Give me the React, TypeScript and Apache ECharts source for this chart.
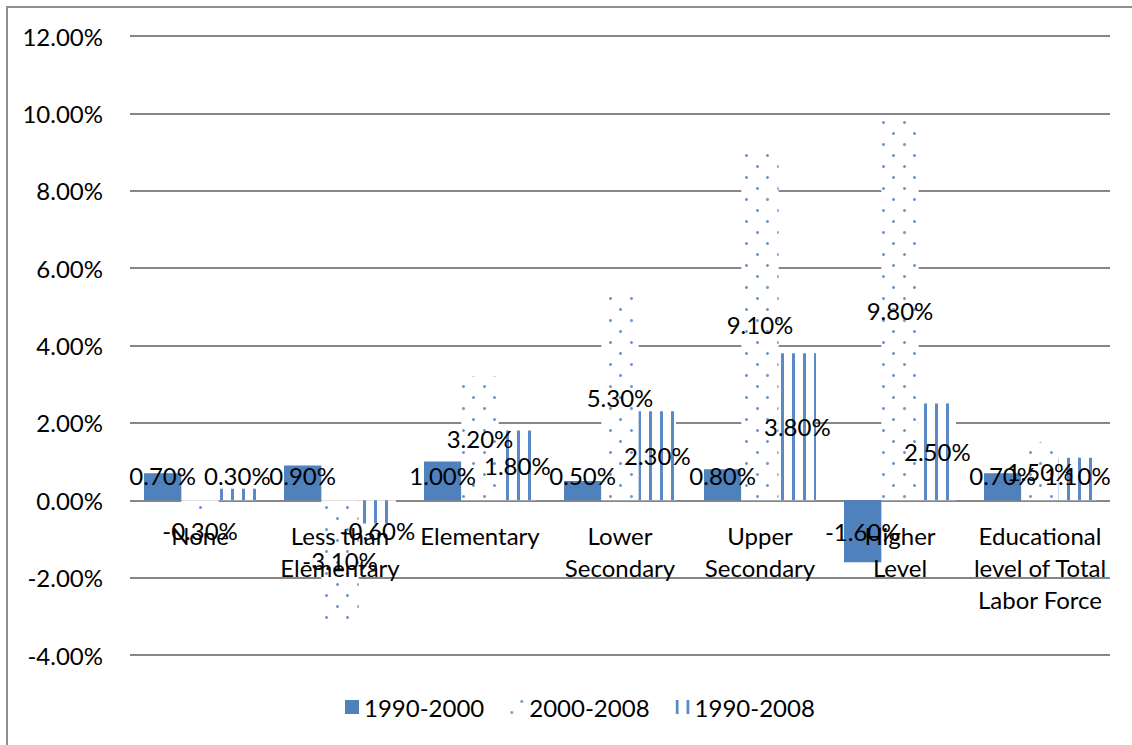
import React, { useEffect, useRef } from "react";
import * as echarts from "echarts";

// Growth of the labor force by educational level (percent per year)
const categories = [
  "None",
  "Less than\nElementary",
  "Elementary",
  "Lower\nSecondary",
  "Upper\nSecondary",
  "Higher\nLevel",
  "Educational\nlevel of Total\nLabor Force",
];
const seriesNames = ["1990-2000", "2000-2008", "1990-2008"];
const values1990to2000 = [0.7, 0.9, 1.0, 0.5, 0.8, -1.6, 0.7];
const values2000to2008 = [-0.3, -3.1, 3.2, 5.3, 9.1, 9.8, 1.5];
const values1990to2008 = [0.3, -0.6, 1.8, 2.3, 3.8, 2.5, 1.1];
const yMin = -4;
const yMax = 12;
const yStep = 2;

const FONT = "Lato";
const FS = 24;
const BLUE = "#4F81BD";

const pct = (v: number) => `${v.toFixed(2)}%`;

export default function App() {
  const ref = useRef<HTMLDivElement>(null);

  useEffect(() => {
    const chart = echarts.init(ref.current!, null, { renderer: "svg" });
    const allValues = [values1990to2000, values2000to2008, values1990to2008];

    const decals: any[] = [
      undefined,
      {
        symbol: "circle",
        symbolSize: 1,
        color: "#6B97CE",
        dashArrayX: [
          [2.4, 17.6],
          [0, 10, 2.4, 7.6],
        ],
        dashArrayY: [2.4, 7.6],
      },
      {
        symbol: "rect",
        symbolSize: 1,
        symbolKeepAspect: false,
        color: "#5A89C6",
        dashArrayX: [3, 8],
        dashArrayY: [10, 0],
      },
    ];

    const build = (offsets: number[][], catLabels: any[]) => ({
      animation: false,
      backgroundColor: "#ffffff",
      textStyle: { fontFamily: FONT },
      graphic: [
        {
          type: "rect",
          shape: { x: 7, y: 7, width: 1200, height: 800 },
          style: { fill: "none", stroke: "#8E8E8E", lineWidth: 2 },
          silent: true,
        },
        ...catLabels,
      ],
      grid: {
        left: 130,
        right: 22,
        top: 36,
        bottom: 90,
        containLabel: false,
        outerBoundsMode: "none",
      },
      legend: {
        left: 340,
        top: 690,
        icon: "rect",
        itemWidth: 14,
        itemHeight: 14,
        itemGap: 26,
        textStyle: { fontFamily: FONT, fontSize: FS, color: "#000" },
        data: seriesNames,
      },
      xAxis: {
        type: "category",
        data: categories,
        axisLine: { show: false },
        axisTick: { show: false },
        axisLabel: { show: false },
      },
      yAxis: {
        type: "value",
        min: yMin,
        max: yMax,
        interval: yStep,
        axisLine: { show: false },
        axisTick: { show: false },
        axisLabel: {
          margin: 27,
          fontFamily: FONT,
          fontSize: FS,
          color: "#000",
          formatter: (v: number) => pct(v),
        },
        splitLine: { lineStyle: { color: "#878787", width: 2 } },
      },
      series: seriesNames.map((name, s) => ({
        name,
        type: "bar",
        barGap: "0%",
        barCategoryGap: "20%",
        itemStyle: decals[s]
          ? { color: "#ffffff", decal: decals[s] }
          : { color: BLUE },
        label: {
          show: true,
          position: "inside",
          fontFamily: FONT,
          fontSize: FS,
          color: "#000",
          formatter: (p: any) => pct(p.value),
        },
        data: allValues[s].map((v, i) => ({
          value: v,
          label: { offset: [0, offsets[s][i]] },
        })),
      })),
    });

    chart.setOption(build(allValues.map((a) => a.map(() => 0)), []));

    const zeroY = chart.convertToPixel({ yAxisIndex: 0 }, 0) as number;

    // Keep value labels clear of the zero line for short bars
    const offsets = allValues.map((arr) =>
      arr.map((v) => {
        const y = chart.convertToPixel({ yAxisIndex: 0 }, v) as number;
        const mid = (y + zeroY) / 2;
        const target = v >= 0 ? Math.min(mid, zeroY - 25) : Math.max(mid, zeroY + 30);
        return target - mid;
      })
    );

    // Category names sit just under the zero line, drawn above the bars
    const catLabels = categories.map((c, i) => ({
      type: "text",
      x: chart.convertToPixel({ xAxisIndex: 0 }, i) as number,
      y: zeroY + 19,
      z: 100,
      silent: true,
      style: {
        text: c,
        font: `${FS}px ${FONT}`,
        fill: "#000",
        align: "center",
        verticalAlign: "top",
        lineHeight: 32,
      },
    }));

    chart.setOption(build(offsets, catLabels));

    return () => chart.dispose();
  }, []);

  return (
    <div
      ref={ref}
      style={{ position: "fixed", left: 0, top: 0, width: 1132, height: 745, background: "#fff" }}
    />
  );
}
